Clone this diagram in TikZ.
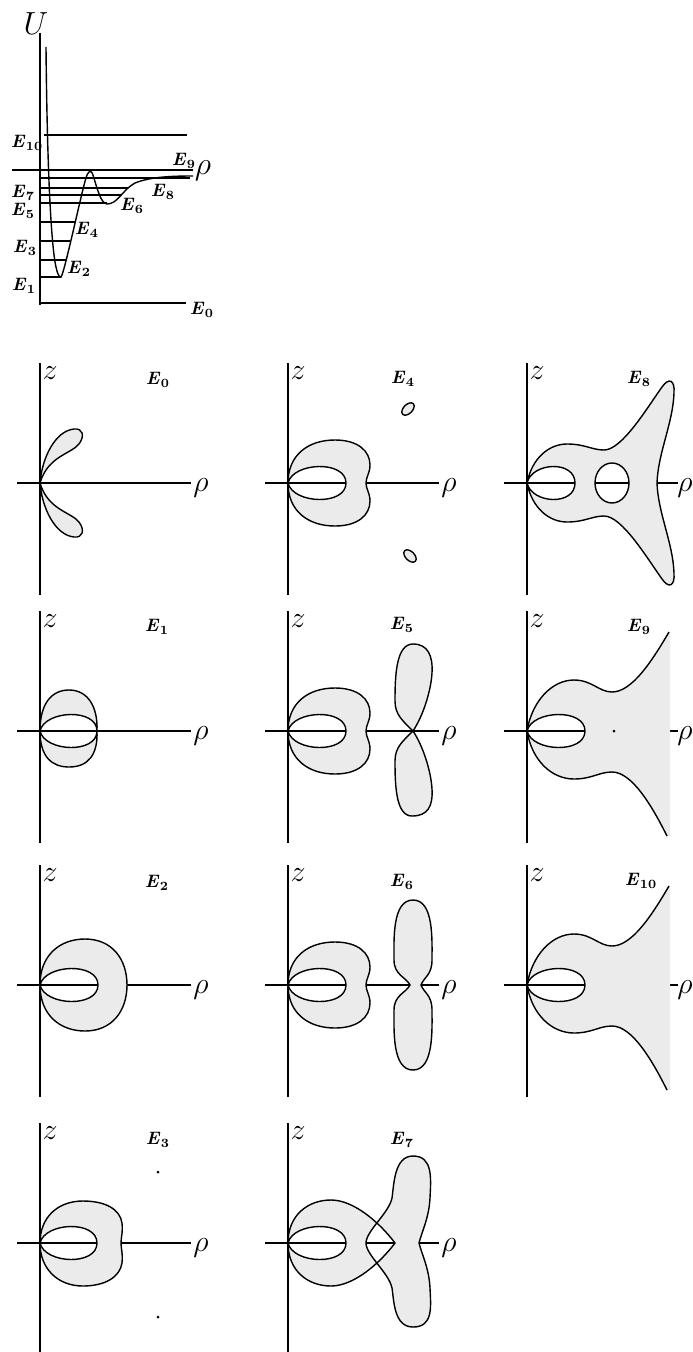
\RequirePackage{fix-cm}
\documentclass[tikz,border=0pt]{standalone}
\usetikzlibrary{positioning}
\definecolor{zonegray}{HTML}{EBEBEB}
\newcommand{\elab}[1]{\textbf{\textit{E}\kern0.3pt\textsubscript{\upshape #1}}}
\newcommand{\innerloop}[1]{(0,0) .. controls (5,21) and (#1,23) .. (#1,0) .. controls (#1,-23) and (5,-21) .. (0,0)}
\newcommand{\applecurve}{(0,0) .. controls (0,28) and (20,43) .. (47,43) .. controls (70,43) and (82,32) .. (82,18) .. controls (82,10) and (78,6) .. (78,0) .. controls (78,-6) and (82,-10) .. (82,-18) .. controls (82,-32) and (70,-43) .. (47,-43) .. controls (20,-43) and (0,-28) .. (0,0)}
\newcommand{\openlobe}{(142,99) .. controls (125,70) and (105,39) .. (85,39) .. controls (72,39) and (65,51) .. (47,51) .. controls (25,51) and (5,30) .. (0,0) .. controls (5,-30) and (25,-48) .. (47,-48) .. controls (65,-48) and (72,-41) .. (85,-41) .. controls (105,-41) and (125,-75) .. (140,-105)}

\begin{document}
\begin{tikzpicture}[x=1pt, y=-1pt, every node/.style={inner sep=0pt},
    lab/.style={scale=1.8, transform shape},
    ax/.style={font=\fontsize{30}{30}\selectfont},
    axis/.style={line width=1.1pt},
    curve/.style={line width=1.4pt},
    zone/.style={fill=zonegray, even odd rule}]
  \useasboundingbox (0,0) rectangle (693,1352);

  \node[font=\fontsize{32}{32}\selectfont] (U) at (36,24) {$U$};
  \coordinate (utop) at (40,33);
  \coordinate (ubot) at (40,305);
  \draw[axis] (utop) -- (ubot);
  \draw[axis] (40,303) -- (186,303) (40,277) -- (61,277) (40,260) -- (66,260)
    (40,241) -- (70,241) (40,222) -- (75,222) (40,203) -- (107,203)
    (40,195) -- (121,195) (40,188) -- (128,188) (40,178) -- (190,178)
    (12,170) -- (193,170) (44,135) -- (187,135);
  \draw[curve] (46,47) .. controls (47,150) and (50,230) .. (55,262)
    .. controls (57,273) and (59,278) .. (61,277) .. controls (64,275) and (82,190) .. (86,178)
    .. controls (88,171) and (91,169) .. (93,175) .. controls (97,188) and (101,204) .. (107,204)
    .. controls (118,204) and (122,190) .. (135,183) .. controls (150,177) and (170,176) .. (193,176);
  \node[font=\fontsize{32}{32}\selectfont] (rho) at (203,171) {$\rho$};
  \node[lab] (e0) at (202,310) {\elab{0}};
  \node[lab] (e1) at (24,286) {\elab{1}};
  \node[lab] (e2) at (79,269) {\elab{2}};
  \node[lab] (e3) at (25,248) {\elab{3}};
  \node[lab] (e4) at (87,230) {\elab{4}};
  \node[lab] (e5) at (23,211) {\elab{5}};
  \node[lab] (e6) at (132,206) {\elab{6}};
  \node[lab] (e7) at (23,193) {\elab{7}};
  \node[lab] (e8) at (163,192) {\elab{8}};
  \node[lab] (e9) at (184,161) {\elab{9}};
  \node[lab] (e10) at (27,143) {\elab{10}};

  \begin{scope}[shift={(40,483)}, y=1pt]
    \draw[axis] (0,120) -- (0,-112) (-23,0) -- (151,0);
    \node[ax] (z0) at (10,110) {$z$};
    \node[ax] (r0) at (161,-5) {$\rho$};
    \node[lab] (l0) at (118,103) {\elab{0}};
    \draw[curve, zone] (0,0) .. controls (2,25) and (15,52) .. (34,54) .. controls (43,55) and (45,47) .. (39,39) .. controls (31,29) and (8,27) .. (0,0)
      (0,0) .. controls (8,-27) and (31,-29) .. (39,-39) .. controls (45,-47) and (43,-55) .. (34,-54) .. controls (15,-52) and (2,-25) .. (0,0);
  \end{scope}

  \begin{scope}[shift={(288,483)}, y=1pt]
    \draw[axis] (0,120) -- (0,-112) (-23,0) -- (151,0);
    \node[ax] (z4) at (10,110) {$z$};
    \node[ax] (r4) at (161,-5) {$\rho$};
    \node[lab] (l4) at (115,104) {\elab{4}};
    \draw[curve, zone] \applecurve \innerloop{58};
    \draw[curve, zone] (120,74) ellipse [x radius=7.5, y radius=4.5, rotate=45];
    \draw[curve, zone] (122,-73) ellipse [x radius=7.5, y radius=4.5, rotate=-45];
  \end{scope}

  \begin{scope}[shift={(527,483)}, y=1pt]
    \draw[axis] (0,120) -- (0,-112) (-23,0) -- (151,0);
    \node[ax] (z8) at (10,110) {$z$};
    \node[ax] (r8) at (158,-5) {$\rho$};
    \node[lab] (l8) at (112,104) {\elab{8}};
    \draw[curve, zone] (0,0) .. controls (5,25) and (22,39) .. (40,39) .. controls (58,39) and (65,33) .. (77,33)
      .. controls (95,33) and (120,75) .. (135,96) .. controls (142,106) and (148,103) .. (147,90)
      .. controls (146,60) and (131,30) .. (130,0) .. controls (131,-30) and (146,-60) .. (147,-90)
      .. controls (148,-103) and (142,-106) .. (135,-96) .. controls (120,-75) and (95,-33) .. (77,-33)
      .. controls (65,-33) and (58,-39) .. (40,-39) .. controls (22,-39) and (5,-25) .. (0,0)
      \innerloop{48} (85,0) ellipse [x radius=17, y radius=20];
  \end{scope}

  \begin{scope}[shift={(40,731)}, y=1pt]
    \draw[axis] (0,120) -- (0,-112) (-23,0) -- (151,0);
    \node[ax] (z1) at (10,110) {$z$};
    \node[ax] (r1) at (161,-5) {$\rho$};
    \node[lab] (l1) at (117,104) {\elab{1}};
    \draw[curve, zone] (0,0) .. controls (0,28) and (12,41) .. (29,41) .. controls (48,41) and (58,24) .. (57,0)
      .. controls (58,-24) and (48,-36) .. (29,-36) .. controls (12,-36) and (0,-26) .. (0,0)
      \innerloop{57};
  \end{scope}

  \begin{scope}[shift={(288,731)}, y=1pt]
    \draw[axis] (0,120) -- (0,-112) (-23,0) -- (151,0);
    \node[ax] (z5) at (10,110) {$z$};
    \node[ax] (r5) at (161,-5) {$\rho$};
    \node[lab] (l5) at (114,106) {\elab{5}};
    \draw[curve, zone] \applecurve \innerloop{58};
    \draw[curve, zone] (125,0) .. controls (115,10) and (107,16) .. (107,30) .. controls (107,55) and (108,87) .. (125,87)
      .. controls (140,87) and (145,75) .. (144,58) .. controls (143,40) and (135,15) .. (125,0)
      .. controls (135,-15) and (143,-40) .. (144,-58) .. controls (145,-75) and (140,-85) .. (124,-85)
      .. controls (108,-85) and (107,-55) .. (107,-30) .. controls (107,-16) and (115,-10) .. (125,0);
  \end{scope}

  \begin{scope}[shift={(527,731)}, y=1pt]
    \draw[axis] (0,120) -- (0,-112) (-23,0) -- (151,0);
    \node[ax] (z9) at (10,110) {$z$};
    \node[ax] (r9) at (158,-5) {$\rho$};
    \node[lab] (l9) at (112,104) {\elab{9}};
    \fill[zone] \openlobe -- (143,-105) -- (143,99) -- cycle \innerloop{58};
    \draw[curve] \openlobe;
    \draw[curve] \innerloop{58};
    \fill (87,0) circle [radius=1.5];
  \end{scope}

  \begin{scope}[shift={(40,985)}, y=1pt]
    \draw[axis] (0,120) -- (0,-112) (-23,0) -- (151,0);
    \node[ax] (z2) at (10,110) {$z$};
    \node[ax] (r2) at (161,-5) {$\rho$};
    \node[lab] (l2) at (117,102) {\elab{2}};
    \draw[curve, zone] (0,0) .. controls (0,30) and (20,46) .. (45,46) .. controls (72,46) and (87,26) .. (87,0)
      .. controls (87,-26) and (72,-46) .. (45,-46) .. controls (20,-46) and (0,-30) .. (0,0)
      \innerloop{58};
  \end{scope}

  \begin{scope}[shift={(288,985)}, y=1pt]
    \draw[axis] (0,120) -- (0,-112) (-23,0) -- (151,0);
    \node[ax] (z6) at (10,110) {$z$};
    \node[ax] (r6) at (161,-5) {$\rho$};
    \node[lab] (l6) at (114,103) {\elab{6}};
    \draw[curve, zone] \applecurve \innerloop{58};
    \draw[curve, zone] (122,0) .. controls (118,8) and (106,10) .. (106,25) .. controls (106,45) and (104,85) .. (125,85)
      .. controls (146,85) and (144,45) .. (144,25) .. controls (144,10) and (136,8) .. (133,0)
      .. controls (136,-8) and (144,-10) .. (144,-25) .. controls (144,-45) and (146,-85) .. (125,-85)
      .. controls (104,-85) and (106,-45) .. (106,-25) .. controls (106,-10) and (118,-8) .. (122,0) -- cycle;
  \end{scope}

  \begin{scope}[shift={(527,985)}, y=1pt]
    \draw[axis] (0,120) -- (0,-112) (-23,0) -- (151,0);
    \node[ax] (z10) at (10,110) {$z$};
    \node[ax] (r10) at (158,-5) {$\rho$};
    \node[lab] (l10) at (114,104) {\elab{10}};
    \fill[zone] \openlobe -- (143,-105) -- (143,99) -- cycle \innerloop{58};
    \draw[curve] \openlobe;
    \draw[curve] \innerloop{58};
  \end{scope}

  \begin{scope}[shift={(40,1243)}, y=1pt]
    \draw[axis] (0,120) -- (0,-112) (-23,0) -- (151,0);
    \node[ax] (z3) at (10,110) {$z$};
    \node[ax] (r3) at (161,-5) {$\rho$};
    \node[lab] (l3) at (118,103) {\elab{3}};
    \draw[curve, zone] (0,0) .. controls (0,26) and (18,42) .. (43,42) .. controls (65,42) and (80,34) .. (82,20)
      .. controls (83,10) and (81,6) .. (81,0) .. controls (81,-6) and (83,-10) .. (82,-20)
      .. controls (80,-34) and (65,-43) .. (43,-43) .. controls (18,-43) and (0,-26) .. (0,0)
      \innerloop{57};
    \fill (118,71) circle [radius=1.5] (118,-74) circle [radius=1.5];
  \end{scope}

  \begin{scope}[shift={(288,1243)}, y=1pt]
    \draw[axis] (0,120) -- (0,-112) (-23,0) -- (151,0);
    \node[ax] (z7) at (10,110) {$z$};
    \node[ax] (r7) at (161,-5) {$\rho$};
    \node[lab] (l7) at (114,103) {\elab{7}};
    \draw[curve, zone] (0,0) .. controls (0,28) and (20,43) .. (43,43) .. controls (66,43) and (92,20) .. (107,0)
      .. controls (92,-20) and (66,-43) .. (43,-43) .. controls (20,-43) and (0,-28) .. (0,0)
      (78,0) .. controls (78,12) and (101,30) .. (104,45) .. controls (106,58) and (106,87) .. (125,87)
      .. controls (145,87) and (143,65) .. (142,45) .. controls (141,25) and (134,12) .. (131,0)
      .. controls (134,-12) and (141,-25) .. (142,-45) .. controls (143,-65) and (145,-84) .. (125,-84)
      .. controls (106,-84) and (106,-58) .. (104,-45) .. controls (101,-30) and (78,-12) .. (78,0)
      \innerloop{58};
  \end{scope}
\end{tikzpicture}
\end{document}
